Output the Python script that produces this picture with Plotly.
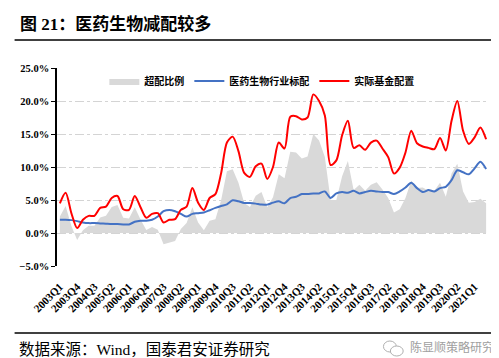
import plotly.graph_objects as go

# ---------------- data ----------------
years = list(range(2003, 2022))
quarters = [f"{y}Q{q}" for y in years for q in range(1, 5)][:75]   # 2003Q1 .. 2021Q3
tick_labels = quarters[::3]

fund_actual = [4.5, 6.1, 3.0, 0.75, 2.0, 2.6, 2.6, 3.8, 4.0, 5.3,
               5.6, 3.6, 3.5, 5.6, 3.9, 2.3, 2.9, 3.0, 1.6, 2.0,
               2.1, 3.5, 4.0, 6.8, 4.6, 3.5, 5.3, 5.9, 9.1, 13.7,
               14.6, 12.4, 9.1, 8.5, 10.1, 10.5, 8.2, 10.0, 13.7, 12.8,
               17.6, 17.7, 17.2, 17.5, 21.0, 20.0, 17.8, 10.3, 11.0, 14.8,
               17.0, 12.9, 13.3, 12.6, 13.7, 14.0, 12.8, 11.5, 9.0, 9.9,
               12.2, 15.5, 13.6, 13.1, 12.9, 12.7, 14.4, 12.5, 17.0, 20.0,
               15.5, 13.5, 14.5, 16.0, 14.2]

industry_std = [2.0, 2.0, 1.95, 1.8, 1.6, 1.5, 1.5, 1.45, 1.4, 1.35,
                1.35, 1.3, 1.3, 1.7, 1.85, 1.85, 2.0, 2.5, 3.3, 3.5,
                3.3, 2.9, 2.5, 2.9, 3.0, 3.1, 3.45, 3.8, 4.1, 4.35,
                4.95, 4.8, 4.55, 4.55, 4.45, 4.3, 4.3, 4.6, 4.8, 4.5,
                5.3, 5.5, 5.9, 5.9, 6.0, 6.0, 6.3, 5.3, 6.0, 6.2,
                6.1, 6.4, 6.0, 6.2, 6.4, 6.3, 6.2, 6.2, 5.9, 6.3,
                6.9, 7.6, 6.8, 6.2, 6.5, 6.3, 6.8, 7.0, 8.0, 9.5,
                9.2, 8.9, 9.8, 10.8, 9.7]

overweight = [2.5, 4.1, 1.05, -1.05, 0.4, 1.1, 1.1, 2.35, 2.6, 3.95,
              4.25, 2.3, 2.2, 3.9, 2.05, 0.45, 0.9, 0.5, -1.7, -1.5,
              -1.2, 0.6, 1.5, 3.9, 1.6, 0.4, 1.85, 2.1, 5.0, 9.35,
              9.65, 7.6, 4.55, 3.95, 5.65, 6.2, 3.9, 5.4, 8.9, 8.3,
              12.3, 12.2, 11.3, 11.6, 15.0, 14.0, 11.5, 5.0, 5.0, 8.6,
              10.9, 6.5, 7.3, 6.4, 7.3, 7.7, 6.6, 5.3, 3.1, 3.6,
              5.3, 7.9, 6.8, 6.9, 6.4, 6.4, 7.6, 5.5, 9.0, 10.5,
              6.3, 4.6, 4.7, 5.2, 4.5]

series_names = ["超配比例", "医药生物行业标配", "实际基金配置"]
y_min, y_max, y_step = -5, 25, 5

# ---------------- layout helpers ----------------
W_FIG, H_FIG = 499, 358
L, R, T, B = 43, 481, 60, 258          # plot area in pixels
def px_x(px):
    return (px - L) / (R - L)
def px_y(py):
    return (B - py) / (B - T)

SERIF_CJK = "Liberation Serif, Noto Sans CJK SC, sans-serif"
CJK = "Noto Sans CJK SC, sans-serif"

fig = go.Figure()
fig.add_trace(go.Scatter(
    x=quarters, y=overweight, name=f"<b>{series_names[0]}</b>",
    mode="lines", line=dict(width=0, color="#d9d9d9"),
    fill="tozeroy", fillcolor="#d9d9d9"))
fig.add_trace(go.Scatter(
    x=quarters, y=industry_std, name=f"<b>{series_names[1]}</b>",
    mode="lines", line=dict(color="#4472c4", width=2, shape="spline", smoothing=0.8)))
fig.add_trace(go.Scatter(
    x=quarters, y=fund_actual, name=f"<b>{series_names[2]}</b>",
    mode="lines", line=dict(color="#ff0000", width=2, shape="spline", smoothing=0.8)))

fig.update_layout(
    width=W_FIG, height=H_FIG,
    margin=dict(l=L, r=W_FIG - R, t=T, b=H_FIG - B, pad=0),
    paper_bgcolor="white", plot_bgcolor="white",
    showlegend=True,
    legend=dict(orientation="h", x=px_x(91), y=px_y(73), xanchor="left", yanchor="middle",
                font=dict(family=CJK, size=10, color="black"),
                bgcolor="rgba(0,0,0,0)", itemwidth=30, tracegroupgap=0,
                traceorder="normal"),
    xaxis=dict(type="category", range=[-0.5, len(quarters) - 0.5],
               tickmode="array", tickvals=tick_labels, ticktext=tick_labels,
               tickangle=-45, ticks="outside", ticklen=9, tickcolor="rgba(0,0,0,0)",
               tickfont=dict(family="Liberation Serif", size=11, color="black", weight="bold"),
               showline=False, showgrid=False, zeroline=False),
    xaxis2=dict(overlaying="x", anchor="free", position=(0 - y_min) / (y_max - y_min),
                range=[-0.5, len(quarters) - 0.5], tickmode="linear", tick0=-0.5, dtick=3,
                ticks="outside", ticklen=4, tickwidth=1, tickcolor="black",
                showline=True, linecolor="black", linewidth=1.5,
                showticklabels=False, showgrid=False, zeroline=False, side="bottom"),
    yaxis=dict(range=[y_min, y_max], tickmode="linear", tick0=y_min, dtick=y_step,
               ticksuffix="%", tickformat=".1f",
               tickfont=dict(family="Liberation Serif", size=10.5, color="black", weight="bold"),
               ticks="outside", ticklen=4, tickcolor="black",
               showline=True, linecolor="black", linewidth=1.5,
               showgrid=True, gridcolor="#d4d4d4", gridwidth=1, griddash="dashdot",
               zeroline=False),
)

# title, separator lines, footer
fig.add_annotation(x=px_x(3), y=px_y(16), xref="paper", yref="paper",
                   xanchor="left", yanchor="middle", showarrow=False,
                   text="<b>图 21：医药生物减配较多</b>",
                   font=dict(family=SERIF_CJK, size=17, color="black"))
fig.add_shape(type="line", xref="paper", yref="paper",
              x0=px_x(0), x1=px_x(499), y0=px_y(32), y1=px_y(32),
              line=dict(color="black", width=1.5))
fig.add_shape(type="line", xref="paper", yref="paper",
              x0=px_x(0), x1=px_x(497), y0=px_y(325), y1=px_y(325),
              line=dict(color="black", width=1.5))
fig.add_annotation(x=px_x(2), y=px_y(341), xref="paper", yref="paper",
                   xanchor="left", yanchor="middle", showarrow=False,
                   text="数据来源：Wind，国泰君安证券研究",
                   font=dict(family=SERIF_CJK, size=15.5, color="black"))
fig.add_annotation(x=px_x(399), y=px_y(338), xref="paper", yref="paper",
                   xanchor="left", yanchor="middle", showarrow=False,
                   text="陈显顺策略研究",
                   font=dict(family=CJK, size=12, color="#a0a0a0"))
# small wechat-like icon
fig.add_shape(type="circle", xref="paper", yref="paper",
              x0=px_x(374), x1=px_x(387), y0=px_y(344), y1=px_y(333),
              line=dict(color="#b0b0b0", width=1))
fig.add_shape(type="circle", xref="paper", yref="paper",
              x0=px_x(381), x1=px_x(394), y0=px_y(348), y1=px_y(338),
              line=dict(color="#b0b0b0", width=1), fillcolor="white")

fig.write_html("out.html")
